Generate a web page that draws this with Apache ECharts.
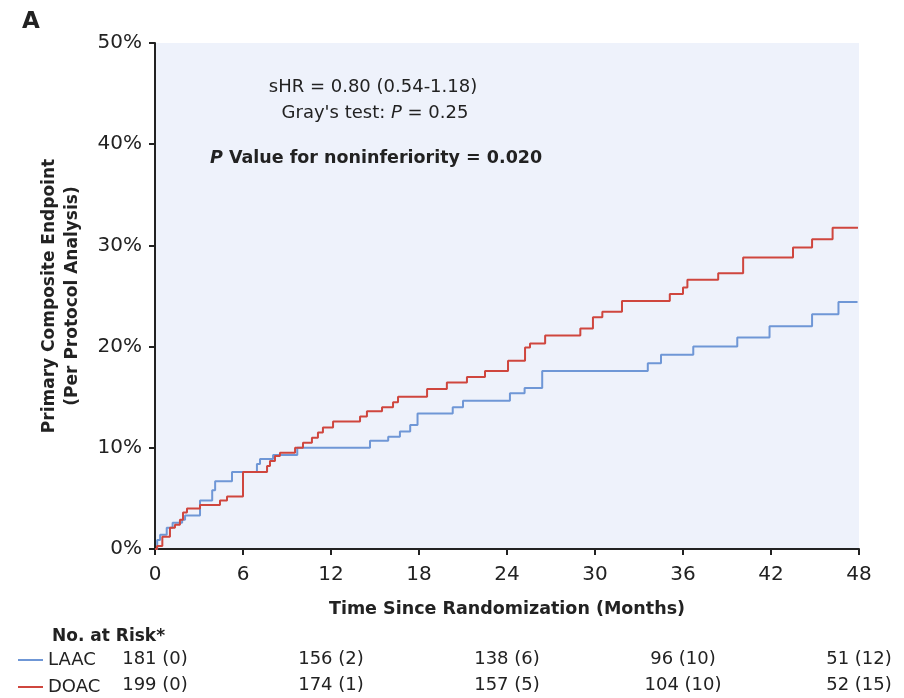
<!DOCTYPE html>
<html><head><meta charset="utf-8">
<script src="https://cdn.jsdelivr.net/npm/echarts@6/dist/echarts.min.js"></script>
<style>html,body{margin:0;padding:0;background:#fff}#c{width:904px;height:698px}</style>
</head><body><div id="c"></div>
<script>
// ---- data ----
const yTicks = [0, 10, 20, 30, 40, 50];
const xTicks = [0, 6, 12, 18, 24, 30, 36, 42, 48];
// LAAC cumulative incidence steps [month, %]
const laac = [[0,0],[0.15,0.9],[0.35,1.4],[0.8,2.1],[1.2,2.6],[1.85,2.9],[2.05,3.3],[3.07,4.8],[3.9,5.8],[4.1,6.7],[5.25,7.6],[6.95,8.4],[7.16,8.9],[8.05,9.3],[9.7,10.0],[14.66,10.7],[15.9,11.1],[16.7,11.6],[17.4,12.25],[17.9,13.4],[20.3,14.0],[21.0,14.65],[24.2,15.4],[25.2,15.9],[26.4,17.6],[33.6,18.35],[34.5,19.2],[36.7,20.0],[39.7,20.9],[41.9,22.0],[44.8,23.2],[46.6,24.4],[47.9,24.4]];
// DOAC cumulative incidence steps [month, %]
const doac = [[0,0],[0.14,0.3],[0.5,1.2],[1.02,2.1],[1.36,2.4],[1.7,2.9],[1.91,3.6],[2.18,4.0],[3.07,4.35],[4.43,4.8],[4.91,5.2],[6.0,7.6],[7.64,8.2],[7.84,8.7],[8.18,9.2],[8.52,9.5],[9.55,10.0],[10.09,10.5],[10.7,11.0],[11.11,11.5],[11.45,12.0],[12.14,12.6],[13.98,13.1],[14.45,13.6],[15.48,14.0],[16.23,14.5],[16.57,15.05],[18.55,15.8],[19.9,16.45],[21.27,17.0],[22.5,17.6],[24.07,18.6],[25.23,19.9],[25.57,20.3],[26.6,21.1],[29.0,21.8],[29.86,22.9],[30.5,23.45],[31.84,24.5],[35.1,25.2],[36.0,25.85],[36.3,26.6],[38.4,27.25],[40.1,28.8],[43.5,29.8],[44.8,30.6],[46.2,31.75],[47.93,31.75]];
const riskMonths = [0, 12, 24, 36, 48];
const riskLAAC = ['181 (0)', '156 (2)', '138 (6)', '96 (10)', '51 (12)'];
const riskDOAC = ['199 (0)', '174 (1)', '157 (5)', '104 (10)', '52 (15)'];
const groups = ['LAAC', 'DOAC'];

// ---- chart ----
const FONT = 'DejaVu Sans';
const BLUE = '#6f97d6', RED = '#cf463e', INK = '#222';
const chart = echarts.init(document.getElementById('c'), null, {renderer: 'canvas'});

const riskData = [];
riskMonths.forEach((m, i) => {
  riskData.push({value: [m, groups[0]], txt: riskLAAC[i]});
  riskData.push({value: [m, groups[1]], txt: riskDOAC[i]});
});

chart.setOption({
  animation: false,
  backgroundColor: '#fff',
  textStyle: {fontFamily: FONT},
  grid: [
    {left: 155, right: 45, top: 43, bottom: 149, show: true, backgroundColor: '#eef2fb', borderWidth: 0, containLabel: false},
    {left: 155, right: 45, top: 646.5, height: 54, show: false}
  ],
  xAxis: [
    {gridIndex: 0, type: 'value', min: 0, max: 48, interval: 6,
     name: 'Time Since Randomization (Months)', nameLocation: 'middle', nameGap: 51,
     nameTextStyle: {fontFamily: FONT, fontSize: 17.5, fontWeight: 'bold', color: INK},
     axisLine: {show: true, onZero: false, lineStyle: {color: INK, width: 2}},
     axisTick: {show: true, length: 6, lineStyle: {color: INK, width: 2}},
     axisLabel: {fontFamily: FONT, fontSize: 20, color: INK, margin: 16},
     splitLine: {show: false}},
    {gridIndex: 1, type: 'value', min: 0, max: 48, show: false}
  ],
  yAxis: [
    {gridIndex: 0, type: 'value', min: 0, max: 50, interval: 10,
     name: 'Primary Composite Endpoint\n(Per Protocol Analysis)', nameLocation: 'middle', nameGap: 71,
     nameTextStyle: {fontFamily: FONT, fontSize: 17, fontWeight: 'bold', color: INK, lineHeight: 23},
     axisLine: {show: true, lineStyle: {color: INK, width: 2}},
     axisTick: {show: true, length: 6, lineStyle: {color: INK, width: 2}},
     axisLabel: {fontFamily: FONT, fontSize: 20, color: INK, margin: 13, formatter: '{value}%'},
     splitLine: {show: false}},
    {gridIndex: 1, type: 'category', data: groups, inverse: true, show: false}
  ],
  series: [
    {name: 'LAAC', type: 'line', step: 'end', data: laac, showSymbol: false, symbol: 'none',
     lineStyle: {color: BLUE, width: 2}, z: 3},
    {name: 'DOAC', type: 'line', step: 'end', data: doac, showSymbol: false, symbol: 'none',
     lineStyle: {color: RED, width: 2}, z: 4},
    {type: 'scatter', xAxisIndex: 1, yAxisIndex: 1, symbolSize: 0, data: riskData,
     silent: true, itemStyle: {opacity: 1},
     label: {show: true, position: 'inside', fontFamily: FONT, fontSize: 18, color: INK, opacity: 1,
             formatter: p => p.data.txt}}
  ],
  graphic: [
    {type: 'text', x: 22, y: 22, style: {text: 'A', font: 'bold 23px ' + FONT, fill: INK, verticalAlign: 'middle'}},
    {type: 'text', x: 373, y: 87, style: {text: 'sHR = 0.80 (0.54-1.18)', font: '18px ' + FONT, fill: INK, align: 'center', verticalAlign: 'middle'}},
    {type: 'text', x: 375, y: 113, style: {text: "{n|Gray's test: }{i|P}{n| = 0.25}", align: 'center', verticalAlign: 'middle',
      rich: {n: {font: '18px ' + FONT, fill: INK}, i: {font: 'italic 18px ' + FONT, fill: INK}}}},
    {type: 'text', x: 210, y: 158, style: {text: '{i|P}{n| Value for noninferiority = 0.020}', align: 'left', verticalAlign: 'middle',
      rich: {n: {font: 'bold 17.5px ' + FONT, fill: INK}, i: {font: 'italic bold 17.5px ' + FONT, fill: INK}}}},
    {type: 'text', x: 52, y: 637, style: {text: 'No. at Risk*', font: 'bold 17px ' + FONT, fill: INK, verticalAlign: 'middle'}},
    {type: 'line', shape: {x1: 18, y1: 660, x2: 43, y2: 660}, style: {stroke: BLUE, lineWidth: 2}},
    {type: 'line', shape: {x1: 18, y1: 687, x2: 43, y2: 687}, style: {stroke: RED, lineWidth: 2}},
    {type: 'text', x: 48, y: 660, style: {text: groups[0], font: '18px ' + FONT, fill: INK, verticalAlign: 'middle'}},
    {type: 'text', x: 48, y: 687, style: {text: groups[1], font: '18px ' + FONT, fill: INK, verticalAlign: 'middle'}}
  ]
});
</script></body></html>
